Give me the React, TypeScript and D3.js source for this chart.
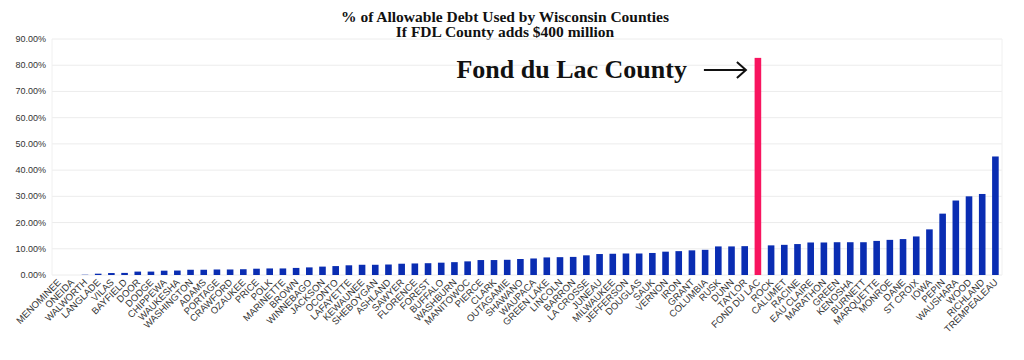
import React from 'react';
import * as d3 from 'd3';

const counties = [
  'MENOMINEE', 'ONEIDA', 'WALWORTH', 'LANGLADE', 'VILAS', 'BAYFIELD', 'DOOR', 'DODGE',
  'CHIPPEWA', 'WAUKESHA', 'WASHINGTON', 'ADAMS', 'PORTAGE', 'CRAWFORD', 'OZAUKEE', 'PRICE',
  'POLK', 'MARINETTE', 'BROWN', 'WINNEBAGO', 'JACKSON', 'OCONTO', 'LAFAYETTE', 'KEWAUNEE',
  'SHEBOYGAN', 'ASHLAND', 'SAWYER', 'FLORENCE', 'FOREST', 'BUFFALO', 'WASHBURN', 'MANITOWOC',
  'PIERCE', 'CLARK', 'OUTAGAMIE', 'SHAWANO', 'WAUPACA', 'GREEN LAKE', 'LINCOLN', 'BARRON',
  'LA CROSSE', 'JUNEAU', 'MILWAUKEE', 'JEFFERSON', 'DOUGLAS', 'SAUK', 'VERNON', 'IRON',
  'GRANT', 'COLUMBIA', 'RUSK', 'DUNN', 'TAYLOR', 'FOND DU LAC', 'ROCK', 'CALUMET',
  'RACINE', 'EAU CLAIRE', 'MARATHON', 'GREEN', 'KENOSHA', 'BURNETT', 'MARQUETTE', 'MONROE',
  'DANE', 'ST CROIX', 'IOWA', 'PEPIN', 'WAUSHARA', 'WOOD', 'RICHLAND', 'TREMPEALEAU',
];

// % of allowable debt used
const debtPct = [
  0, 0, 0.1, 0.5, 0.75, 0.8, 1.3, 1.3,
  1.65, 1.7, 2.0, 2.0, 2.1, 2.1, 2.2, 2.4,
  2.5, 2.5, 2.7, 2.9, 3.2, 3.4, 3.7, 3.9,
  3.9, 4.0, 4.3, 4.4, 4.5, 4.7, 4.9, 5.2,
  5.7, 5.7, 5.8, 6.1, 6.3, 6.7, 6.8, 6.9,
  7.5, 8.0, 8.1, 8.2, 8.2, 8.4, 8.9, 9.1,
  9.4, 9.6, 10.9, 10.9, 11.0, 82.8, 11.3, 11.5,
  11.8, 12.4, 12.4, 12.5, 12.5, 12.5, 13.0, 13.4,
  13.7, 14.7, 17.4, 23.4, 28.4, 30.0, 30.9, 45.2,
];

const yTicks = [0, 10, 20, 30, 40, 50, 60, 70, 80, 90];
const highlight = 'FOND DU LAC';
const titleLines = ['% of Allowable Debt Used by Wisconsin Counties', 'If FDL County adds $400 million'];

export default function App() {
  const width = 1024;
  const height = 360;
  const left = 52, right = 1002, top = 39, bottom = 275;

  const x = d3.scaleBand<string>().domain(counties).range([left, right]).paddingInner(0.5).paddingOuter(0.25);
  const y = d3.scaleLinear().domain([0, 90]).range([bottom, top]);

  const fdlX = (x(highlight) ?? 0) + x.bandwidth() / 2;
  const arrowEnd = fdlX - 12;
  const arrowStart = arrowEnd - 42;
  const arrowY = 70;

  return (
    <svg width={width} height={height} style={{ position: 'absolute', left: 0, top: 0, background: '#fff' }}>
      {/* title */}
      <g fontFamily="'Liberation Serif', serif" fontWeight="bold" fontSize={15.5} textAnchor="middle" fill="#111">
        {titleLines.map((t, i) => (
          <text key={i} x={505} y={22 + i * 15}>{t}</text>
        ))}
      </g>

      {/* grid */}
      {yTicks.map(t => (
        <line key={t} x1={left} x2={right} y1={y(t)} y2={y(t)} stroke="#ececec" strokeWidth={1} />
      ))}
      <line x1={left} x2={left} y1={top} y2={bottom} stroke="#f0f0f0" />
      <line x1={right} x2={right} y1={top} y2={bottom} stroke="#f0f0f0" />

      {/* y axis labels */}
      <g fontFamily="'Liberation Sans', Arial, sans-serif" fontSize={9} fill="#333" textAnchor="end">
        {yTicks.map(t => (
          <text key={t} x={46} y={y(t) + 3}>{d3.format('.2f')(t)}%</text>
        ))}
      </g>

      {/* bars */}
      {counties.map((c, i) => (
        <rect
          key={c}
          x={x(c)}
          y={y(debtPct[i])}
          width={x.bandwidth()}
          height={bottom - y(debtPct[i])}
          fill={c === highlight ? '#f8145f' : '#0a2db2'}
        />
      ))}

      {/* x labels */}
      <g fontFamily="'Liberation Sans', Arial, sans-serif" fontSize={9.5} fill="#333" textAnchor="end">
        {counties.map(c => {
          const cx = (x(c) ?? 0) + x.bandwidth() / 2 + 3;
          const cy = bottom + 8;
          return (
            <text key={c} x={cx} y={cy} transform={`rotate(-45 ${cx} ${cy})`}>{c}</text>
          );
        })}
      </g>

      {/* annotation */}
      <text x={arrowStart - 17} y={78} textAnchor="end" fontFamily="'Liberation Serif', serif" fontWeight="bold" fontSize={26} fill="#111">
        Fond du Lac County
      </text>
      <line x1={arrowStart} x2={arrowEnd} y1={arrowY} y2={arrowY} stroke="#111" strokeWidth={2} />
      <path d={`M${arrowEnd - 9},${arrowY - 8} L${arrowEnd},${arrowY} L${arrowEnd - 9},${arrowY + 8}`} fill="none" stroke="#111" strokeWidth={2} />
    </svg>
  );
}
